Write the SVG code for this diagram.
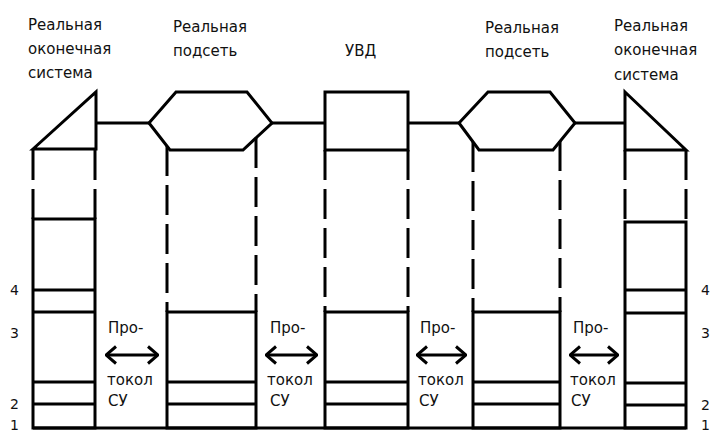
<svg xmlns="http://www.w3.org/2000/svg" width="713" height="432" viewBox="0 0 713 432">
<style>
.s{fill:none;stroke:#000;stroke-width:3;stroke-linejoin:miter}
.d{fill:none;stroke:#000;stroke-width:3;stroke-dasharray:30 9}
.t{font-family:"DejaVu Sans","Liberation Sans",sans-serif;font-size:15px;fill:#111}
.n{font-family:"DejaVu Sans","Liberation Sans",sans-serif;font-size:14px;fill:#111}
</style>
<defs>
<marker id="ah" viewBox="0 0 12 20" refX="11" refY="10" markerWidth="12" markerHeight="20" markerUnits="userSpaceOnUse" orient="auto-start-reverse">
<path d="M1,1.5 L11,10 L1,18.5" fill="none" stroke="#000" stroke-width="3"/>
</marker>
</defs>
<rect width="713" height="432" fill="#fff"/>

<g id="end-system-left">
<text class="t" x="28" y="30">Реальная</text>
<text class="t" x="28" y="54">оконечная</text>
<text class="t" x="28" y="78">система</text>
<path class="s" d="M33,149 L96,92 L96,149 Z"/>
<line class="d" x1="33" y1="150" x2="33" y2="219"/>
<line class="d" x1="95" y1="150" x2="95" y2="219"/>
<rect class="s" x="33" y="219" width="62" height="209"/>
<line class="s" x1="33" y1="290" x2="95" y2="290"/>
<line class="s" x1="33" y1="312" x2="95" y2="312"/>
<line class="s" x1="33" y1="382" x2="95" y2="382"/>
<line class="s" x1="33" y1="404" x2="95" y2="404"/>
<text class="n" x="10" y="295">4</text>
<text class="n" x="10" y="338">3</text>
<text class="n" x="10" y="409">2</text>
<text class="n" x="10" y="430">1</text>
</g>

<g id="subnet-1">
<text class="t" x="173" y="32">Реальная</text>
<text class="t" x="173" y="56">подсеть</text>
<path class="s" d="M149,123 L176,92 L247,92 L272,123 L243,150 L170,150 Z"/>
<line class="d" x1="167" y1="146" x2="167" y2="312"/>
<line class="d" x1="256" y1="138" x2="256" y2="312"/>
<rect class="s" x="167" y="312" width="89" height="116"/>
<line class="s" x1="167" y1="382" x2="256" y2="382"/>
<line class="s" x1="167" y1="404" x2="256" y2="404"/>
</g>

<g id="ivd">
<text class="t" x="345" y="56">УВД</text>
<rect class="s" x="325" y="92" width="83" height="58"/>
<line class="d" x1="325" y1="150" x2="325" y2="312"/>
<line class="d" x1="408" y1="150" x2="408" y2="312"/>
<rect class="s" x="325" y="312" width="83" height="116"/>
<line class="s" x1="325" y1="382" x2="408" y2="382"/>
<line class="s" x1="325" y1="404" x2="408" y2="404"/>
</g>

<g id="subnet-2">
<text class="t" x="485" y="33">Реальная</text>
<text class="t" x="485" y="57">подсеть</text>
<path class="s" d="M459,123 L488,92 L550,92 L575,123 L553,150 L479,150 Z"/>
<line class="d" x1="473" y1="142" x2="473" y2="312"/>
<line class="d" x1="560" y1="141" x2="560" y2="312"/>
<rect class="s" x="473" y="312" width="87" height="116"/>
<line class="s" x1="473" y1="382" x2="560" y2="382"/>
<line class="s" x1="473" y1="404" x2="560" y2="404"/>
</g>

<g id="end-system-right">
<text class="t" x="614" y="31">Реальная</text>
<text class="t" x="614" y="55">оконечная</text>
<text class="t" x="614" y="80">система</text>
<path class="s" d="M625,92 L686,150 L625,150 Z"/>
<line class="d" x1="625" y1="150" x2="625" y2="222"/>
<line class="d" x1="686" y1="150" x2="686" y2="222"/>
<rect class="s" x="625" y="222" width="61" height="206"/>
<line class="s" x1="625" y1="290" x2="686" y2="290"/>
<line class="s" x1="625" y1="313" x2="686" y2="313"/>
<line class="s" x1="625" y1="383" x2="686" y2="383"/>
<line class="s" x1="625" y1="405" x2="686" y2="405"/>
<text class="n" x="701" y="295">4</text>
<text class="n" x="701" y="338">3</text>
<text class="n" x="701" y="410">2</text>
<text class="n" x="701" y="430">1</text>
</g>

<g id="connectors">
<line class="s" x1="96" y1="123" x2="149" y2="123"/>
<line class="s" x1="272" y1="123" x2="325" y2="123"/>
<line class="s" x1="408" y1="123" x2="459" y2="123"/>
<line class="s" x1="575" y1="123" x2="625" y2="123"/>
<line class="s" x1="33" y1="428" x2="686" y2="428"/>
<line class="s" x1="106" y1="355" x2="158" y2="355" marker-start="url(#ah)" marker-end="url(#ah)"/>
<line class="s" x1="266" y1="355" x2="317" y2="355" marker-start="url(#ah)" marker-end="url(#ah)"/>
<line class="s" x1="417" y1="355" x2="466" y2="355" marker-start="url(#ah)" marker-end="url(#ah)"/>
<line class="s" x1="570" y1="355" x2="618" y2="355" marker-start="url(#ah)" marker-end="url(#ah)"/>
<text class="t" x="108" y="333">Про-</text>
<text class="t" x="107" y="385">токол</text>
<text class="t" x="108" y="406">СУ</text>
<text class="t" x="270" y="333">Про-</text>
<text class="t" x="267" y="385">токол</text>
<text class="t" x="270" y="406">СУ</text>
<text class="t" x="420" y="333">Про-</text>
<text class="t" x="418" y="385">токол</text>
<text class="t" x="419" y="406">СУ</text>
<text class="t" x="573" y="333">Про-</text>
<text class="t" x="570" y="385">токол</text>
<text class="t" x="571" y="406">СУ</text>
</g>
</svg>
